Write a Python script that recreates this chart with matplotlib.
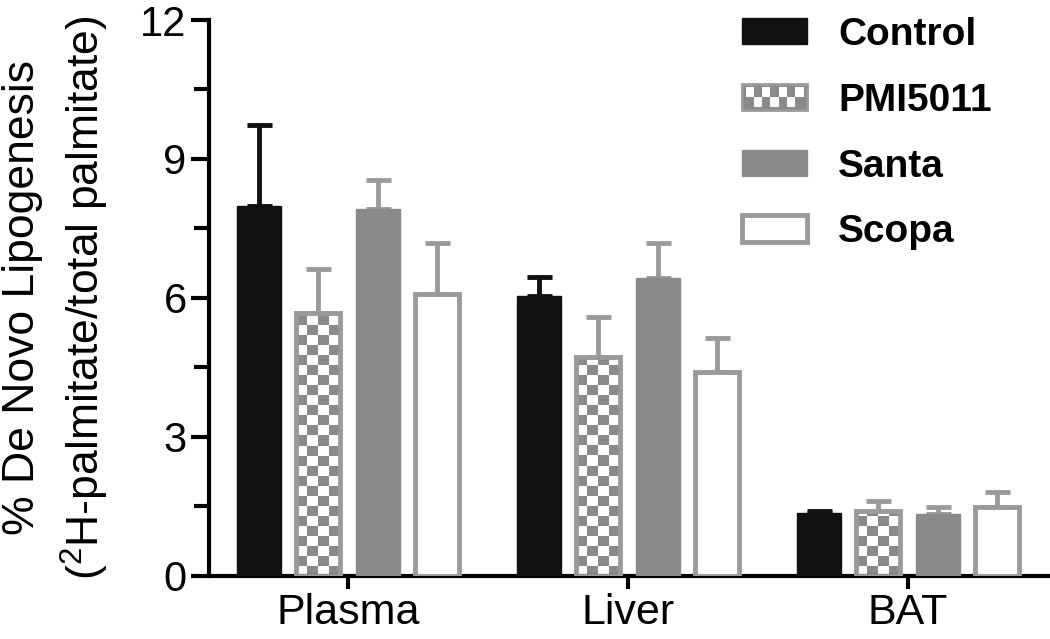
# de novo lipogenesis bar chart

import numpy as np
import matplotlib
matplotlib.use('Agg')
import matplotlib.pyplot as plt
from matplotlib.patches import Rectangle
from matplotlib.colors import ListedColormap
from matplotlib.legend_handler import HandlerBase

plt.rcParams['font.family'] = ['Liberation Sans', 'DejaVu Sans']
plt.rcParams['mathtext.fontset'] = 'custom'
plt.rcParams['mathtext.rm'] = 'Liberation Sans'
plt.rcParams['mathtext.it'] = 'Liberation Sans:italic'

#data
tissues = ['Plasma', 'Liver', 'BAT']
groups = ['Control', 'PMI5011', 'Santa', 'Scopa']
control = [7.99, 6.04, 1.36]
control_err = [1.74, 0.41, 0.05]
pmi5011 = [5.68, 4.73, 1.40]
pmi5011_err = [0.95, 0.86, 0.22]
santa = [7.92, 6.43, 1.34]
santa_err = [0.63, 0.76, 0.15]
scopa = [6.09, 4.40, 1.49]
scopa_err = [1.10, 0.74, 0.32]
yticks = [0, 3, 6, 9, 12]

values = [control, pmi5011, santa, scopa]
errors = [control_err, pmi5011_err, santa_err, scopa_err]

#styles
black = '#111111'
gray = '#8a8a8a'
edge_gray = '#9a9a9a'
face = [black, 'none', gray, 'white']
edge = [black, edge_gray, gray, edge_gray]
err_col = [black, edge_gray, edge_gray, edge_gray]

fig = plt.figure(figsize=(10.5, 6.39), dpi=100)
ax = fig.add_axes([0.199, 0.0986, 0.801, 0.8701])

x = np.arange(len(tissues))
step = 0.2125
width = 0.157
cell_h = 0.216     # checker cell height in data units

for g in range(len(groups)):
    pos = x + (g - 1.5) * step
    ax.errorbar(pos, values[g], yerr=[np.zeros(len(tissues)), errors[g]], fmt='none',
                ecolor=err_col[g], elinewidth=3.5, capsize=9, capthick=3.5, zorder=1)
    bars = ax.bar(pos, values[g], width, facecolor=face[g], edgecolor=edge[g],
                  linewidth=3.5 if g in (1, 3) else 1, zorder=3, label=groups[g])
    if g == 1:
        #checkerboard fill for PMI5011, clipped to each bar
        for b in bars:
            nrow = int(np.ceil(b.get_height() / cell_h))
            ncol = 4
            pattern = np.indices((nrow, ncol)).sum(axis=0) % 2
            im = ax.imshow(pattern, cmap=ListedColormap(['white', gray]), origin='lower',
                           extent=[b.get_x(), b.get_x() + b.get_width(), 0, nrow * cell_h],
                           aspect='auto', interpolation='nearest', zorder=2)
            im.set_clip_path(b)

ax.set_xlim(-0.496, 2.507)
ax.set_ylim(0, 12)

#axes style
for s in ['top', 'right']:
    ax.spines[s].set_visible(False)
ax.spines['left'].set_linewidth(3)
ax.spines['bottom'].set_linewidth(3)
ax.set_yticks(yticks)
ax.set_yticks([1.5, 4.5, 7.5, 10.5], minor=True)
ax.set_xticks(x)
ax.set_xticklabels(tissues)
ax.tick_params(axis='y', which='major', length=13, width=3, labelsize=30, pad=3)
ax.tick_params(axis='y', which='minor', length=11, width=3)
ax.tick_params(axis='x', length=9, width=3, labelsize=31, pad=3)

fig.text(0.054, 0.534, '% De Novo Lipogenesis\n($^2$H-palmitate/total palmitate)',
         rotation=90, ha='center', va='center', multialignment='center',
         fontsize=32, linespacing=1.4)


#legend with a checker swatch for PMI5011
class CheckerHandler(HandlerBase):
    def create_artists(self, legend, orig_handle, xdescent, ydescent, width, height, fontsize, trans):
        x0, y0 = -xdescent, -ydescent
        arts = [Rectangle((x0, y0), width, height, facecolor=gray, edgecolor=edge_gray,
                          linewidth=2, transform=trans)]
        ncol, nrow = 7, 2
        pad = 2.5
        cw = (width - 2 * pad) / ncol
        ch = (height - 2 * pad) / nrow
        for i in range(ncol):
            for j in range(nrow):
                if (i + j) % 2 == 1:
                    arts.append(Rectangle((x0 + pad + i * cw, y0 + pad + j * ch), cw, ch,
                                          facecolor='white', linewidth=0, transform=trans))
        return arts


handles, labels = ax.get_legend_handles_labels()
leg = ax.legend(handles, labels, loc='upper left', bbox_to_anchor=(0.7067, 0.974),
                bbox_transform=fig.transFigure, frameon=False, borderpad=0, borderaxespad=0,
                prop={'weight': 'bold', 'size': 28}, handlelength=1.67, handleheight=0.68,
                handletextpad=0.8, labelspacing=0.77,
                handler_map={handles[1]: CheckerHandler()})

fig.savefig('out.png', dpi=100)
